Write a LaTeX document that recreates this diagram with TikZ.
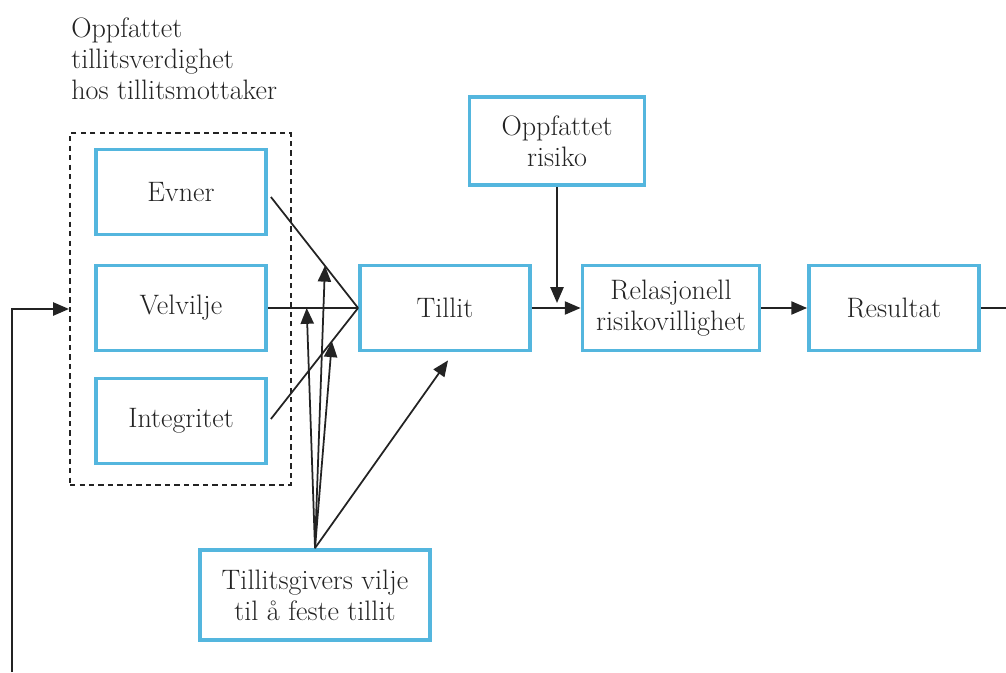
\documentclass[tikz,border=0pt]{standalone}
\usepackage{fontspec}
\usepackage{xcolor}
\usepackage{tikz}
\usetikzlibrary{arrows.meta,positioning,calc}
\definecolor{boxblue}{RGB}{84,182,222}
\definecolor{inkgray}{RGB}{35,35,35}

\begin{document}
\begin{tikzpicture}[x=0.02cm,y=-0.02cm,>={Triangle[length=9pt,width=7.5pt]},
  every node/.style={font=\fontsize{16}{17.8}\selectfont,text=inkgray},
  blok/.style={draw=boxblue,line width=2.2pt,minimum width=3.4cm,minimum height=1.7cm,align=center,inner sep=2pt},
  pil/.style={draw=inkgray,line width=1pt}]
\useasboundingbox (0,0) rectangle (1006,672);
% tillitsverdighet
\node[anchor=north west,align=left,inner sep=0pt] (tittel) at (71,17) {Oppfattet\\tillitsverdighet\\hos tillitsmottaker};
\node[draw=inkgray,line width=1.2pt,dash pattern=on 3pt off 2.4pt,minimum width=4.42cm,minimum height=7.04cm] (gruppe) at (180.5,309) {};
\node[blok] (evner) at (181,192) {Evner};
\node[blok] (velvilje) at (181,308) {Velvilje};
\node[blok] (integritet) at (181,421) {Integritet};
% kjeden
\node[blok] (tillit) at (445,308) {Tillit};
\node[blok,minimum width=3.5cm,minimum height=1.76cm] (risiko) at (557,141) {Oppfattet\\risiko};
\node[blok,minimum width=3.54cm] (villighet) at (671,308) {Relasjonell\\risikovillighet};
\node[blok] (resultat) at (894,308) {Resultat};
\node[blok,minimum width=4.6cm,minimum height=1.8cm] (vilje) at (315,595) {Tillitsgivers vilje\\til å feste tillit};
% linjer inn mot tillit
\coordinate (samle) at (tillit.west);
\coordinate (fraE) at ($(evner.east)+(3,5)$);
\coordinate (fraI) at ($(integritet.east)+(3,-2)$);
\draw[pil] (fraE)--(samle);
\draw[pil] (velvilje.east)--(samle);
\draw[pil] (fraI)--(samle);
\coordinate (treffE) at ($(fraE)!0.62!(samle)$);
\coordinate (treffV) at ($(velvilje.east)!0.43!(samle)$);
\coordinate (treffI) at ($(fraI)!0.7!(samle)$);
\coordinate (treffT) at ($(tillit.south)+(3,8)$);
\draw[pil,->] (vilje.north)--(treffE);
\draw[pil,->] (vilje.north)--(treffV);
\draw[pil,->] (vilje.north)--(treffI);
\draw[pil,->] (vilje.north)--(treffT);
% hovedkjede
\draw[pil,->] (tillit)--(villighet);
\coordinate (treffR) at (risiko.south|-0,303);
\draw[pil,->] (risiko.south)--(treffR);
\draw[pil,->] (villighet)--(resultat);
\coordinate (ut) at (1006,308);
\draw[pil] (resultat)--(ut);
% tilbakekobling
\coordinate (retur) at (12,672);
\draw[pil,->] (retur) |- (gruppe.west);
\end{tikzpicture}
\end{document}
